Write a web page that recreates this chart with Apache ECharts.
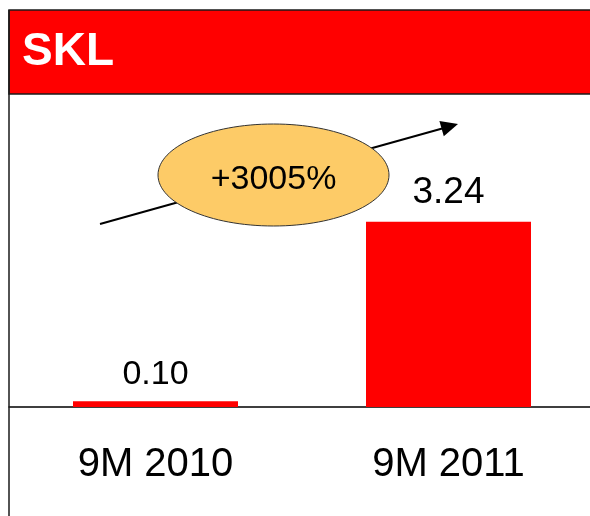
<!DOCTYPE html>
<html>
<head>
<meta charset="utf-8">
<script src="https://cdn.jsdelivr.net/npm/echarts@6/dist/echarts.min.js"></script>
<style>
html,body{margin:0;padding:0;background:#fff;}
#chart{width:590px;height:516px;}
</style>
</head>
<body>
<div id="chart"></div>
<script>
const categories = ['9M 2010', '9M 2011'];
const values = [0.10, 3.24];
const valueLabels = ['0.10', '3.24'];
const headerTitle = 'SKL';
const growthLabel = '+3005%';

const FONT = '"Liberation Sans", Arial, Helvetica, sans-serif';
const chart = echarts.init(document.getElementById('chart'), null, {renderer: 'canvas'});

const labelSizes = [34, 37];

chart.setOption({
  animation: false,
  backgroundColor: '#ffffff',
  grid: {left: 9, right: -5, top: 121, height: 286, outerBoundsMode: 'none', containLabel: false},
  xAxis: {
    type: 'category',
    data: categories,
    axisLine: {show: true, lineStyle: {color: '#000', width: 1.5}},
    axisTick: {show: false},
    axisLabel: {fontFamily: FONT, fontSize: 40, color: '#000', margin: 38}
  },
  yAxis: {
    type: 'value', min: 0, max: 5, interval: 1,
    show: false,
    splitLine: {show: false}
  },
  series: [{
    type: 'bar',
    barWidth: 165,
    data: values.map((v, i) => ({
      value: v,
      label: {fontSize: labelSizes[i]}
    })),
    itemStyle: {color: '#FF0000'},
    label: {
      show: true,
      position: 'top',
      distance: 10,
      fontFamily: FONT,
      color: '#000',
      formatter: p => valueLabels[p.dataIndex]
    }
  }],
  graphic: [
    {type: 'rect', shape: {x: 9, y: 10, width: 590, height: 84},
     style: {fill: '#FF0000', stroke: '#1a1a1a', lineWidth: 1.5}, z: 10},
    {type: 'text', x: 22, y: 52, z: 11,
     style: {text: headerTitle, fill: '#fff', fontFamily: FONT, fontWeight: 'bold', fontSize: 46,
             textVerticalAlign: 'middle', textAlign: 'left'}},
    {type: 'line', shape: {x1: 9, y1: 10, x2: 9, y2: 516},
     style: {stroke: '#1a1a1a', lineWidth: 1.5}, z: 12},
    {type: 'line', shape: {x1: 100, y1: 224, x2: 444, y2: 128},
     style: {stroke: '#000', lineWidth: 2}, z: 20},
    {type: 'polygon', shape: {points: [[458, 124], [439.4, 120.9], [443.8, 136.3]]},
     style: {fill: '#000'}, z: 20},
    {type: 'ellipse', shape: {cx: 273.5, cy: 175, rx: 115.5, ry: 51},
     style: {fill: '#FDCB67', stroke: '#333', lineWidth: 1}, z: 21},
    {type: 'text', x: 273.5, y: 180, z: 22,
     style: {text: growthLabel, fill: '#000', fontFamily: FONT, fontSize: 34,
             textAlign: 'center', textVerticalAlign: 'middle'}}
  ]
});
</script>
</body>
</html>
